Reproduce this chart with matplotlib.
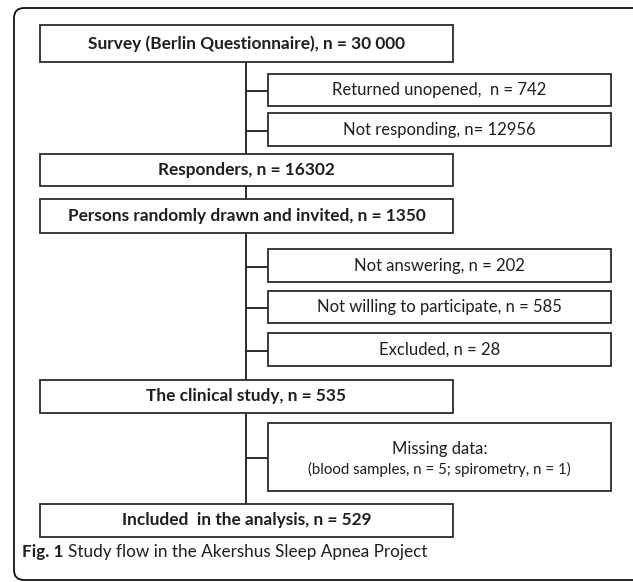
import matplotlib
matplotlib.use("Agg")
import matplotlib.pyplot as plt
from matplotlib.patches import Rectangle, FancyBboxPatch

plt.rcParams['font.family'] = ['Lato', 'DejaVu Sans']

# Flow chart content
main_labels = [
    "Survey (Berlin Questionnaire), n = 30 000",
    "Responders, n = 16302",
    "Persons randomly drawn and invited, n = 1350",
    "The clinical study, n = 535",
    "Included  in the analysis, n = 529",
]
side_labels = [
    "Returned unopened,  n = 742",
    "Not responding, n= 12956",
    "Not answering, n = 202",
    "Not willing to participate, n = 585",
    "Excluded, n = 28",
    "Missing data:",
]
missing_detail = "(blood samples, n = 5; spirometry, n = 1)"
caption_bold = "Fig. 1"
caption_text = "Study flow in the Akershus Sleep Apnea Project"

# Layout (pixel units, y downwards)
W, H = 633, 582
main_x0, main_x1 = 40, 453
side_x0, side_x1 = 268, 611
spine_x = 246
main_rows = [(25, 62), (154, 186), (199, 233), (380, 413), (504, 537)]
side_rows = [(74, 106), (113, 146), (249, 282), (291, 323), (333, 366), (423, 491)]

fig = plt.figure(figsize=(W / 100, H / 100), dpi=100)
ax = fig.add_axes([0, 0, 1, 1])
ax.set_xlim(0, W)
ax.set_ylim(H, 0)
ax.axis('off')

line_col = '#2b2b2b'
text_col = '#1e1e1e'

# outer rounded frame (right edge runs off the image)
frame = FancyBboxPatch((14, 8), 650 - 14, 580 - 8,
                       boxstyle="round,pad=0,rounding_size=10",
                       fill=False, edgecolor='#111111', linewidth=1.3, zorder=1)
ax.add_patch(frame)

# vertical spine
ax.plot([spine_x, spine_x], [main_rows[0][1], main_rows[-1][0]],
        color=line_col, lw=1.4, zorder=2)

# connectors to side boxes
for top, bot in side_rows:
    yc = (top + bot) / 2 + 1
    ax.plot([spine_x, side_x0], [yc, yc], color=line_col, lw=1.4, zorder=2)

# main boxes
for (top, bot), label in zip(main_rows, main_labels):
    ax.add_patch(Rectangle((main_x0, top), main_x1 - main_x0, bot - top,
                           facecolor='white', edgecolor=line_col, lw=1.3, zorder=3))
    ax.text((main_x0 + main_x1) / 2, (top + bot) / 2, label,
            ha='center', va='center', fontsize=12.4, fontweight='bold',
            color=text_col, zorder=4)

# side boxes
for (top, bot), label in zip(side_rows, side_labels):
    ax.add_patch(Rectangle((side_x0, top), side_x1 - side_x0, bot - top,
                           facecolor='white', edgecolor=line_col, lw=1.3, zorder=3))
    xc = (side_x0 + side_x1) / 2
    if label.startswith("Missing"):
        ax.text(xc, top + 26, label, ha='center', va='center',
                fontsize=12, color=text_col, zorder=4)
        ax.text(xc, top + 46, missing_detail, ha='center', va='center',
                fontsize=10.8, color=text_col, zorder=4)
    else:
        ax.text(xc, (top + bot) / 2, label, ha='center', va='center',
                fontsize=12, color=text_col, zorder=4)

# caption
t = ax.text(22, 552, caption_bold + " ", ha='left', va='center',
            fontsize=12.3, fontweight='bold', color=text_col)
fig.canvas.draw()
bb = t.get_window_extent()
x_after = ax.transData.inverted().transform((bb.x1, bb.y0))[0]
ax.text(x_after, 552, caption_text, ha='left', va='center',
        fontsize=12.3, color=text_col)

fig.savefig("out.png", dpi=100)
